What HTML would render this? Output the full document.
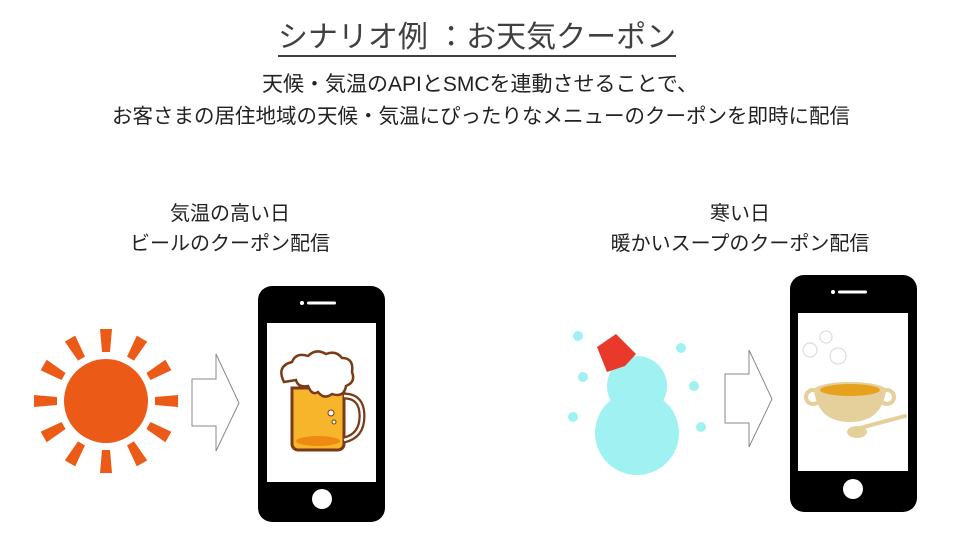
<!DOCTYPE html>
<html><head><meta charset="utf-8"><style>
body{margin:0;width:960px;height:538px;background:#fff;position:relative;overflow:hidden;font-family:"Liberation Sans","Noto Sans CJK JP",sans-serif;color:#222}
.t{position:absolute;white-space:nowrap;text-align:center}
</style></head><body>
<div class="t" style="left:0;width:954px;top:18px;font-size:30px;line-height:40px;color:#404040"><span style="border-bottom:2px solid #404040;padding-bottom:1px">シナリオ例 ：お天気クーポン</span></div>
<div class="t" style="left:0;width:960px;top:70px;font-size:21px;line-height:30px">天候・気温のAPIとSMCを連動させることで、</div>
<div class="t" style="left:0;width:962px;top:102px;font-size:20.5px;line-height:30px">お客さまの居住地域の天候・気温にぴったりなメニューのクーポンを即時に配信</div>
<div class="t" style="left:80px;width:300px;top:199px;font-size:20px;line-height:30px">気温の高い日<br>ビールのクーポン配信</div>
<div class="t" style="left:590px;width:300px;top:199px;font-size:20px;line-height:30px">寒い日<br>暖かいスープのクーポン配信</div>
<svg width="960" height="538" style="position:absolute;left:0;top:0">
<g fill="#eb5a17">
<circle cx="106" cy="401" r="42"/>
<g id="r"><polygon points="100,329 112,329 110,352 102,352"/></g>
<use href="#r" transform="rotate(30 106 401)"/><use href="#r" transform="rotate(60 106 401)"/><use href="#r" transform="rotate(90 106 401)"/><use href="#r" transform="rotate(120 106 401)"/><use href="#r" transform="rotate(150 106 401)"/><use href="#r" transform="rotate(180 106 401)"/><use href="#r" transform="rotate(210 106 401)"/><use href="#r" transform="rotate(240 106 401)"/><use href="#r" transform="rotate(270 106 401)"/><use href="#r" transform="rotate(300 106 401)"/><use href="#r" transform="rotate(330 106 401)"/>
</g>
<polygon points="192,379 216,379 216,354 239,403 216,451 216,426 192,426" fill="#fff" stroke="#888" stroke-width="1"/>
<polygon points="725,374 749,374 749,350 772,399 749,447 749,423 725,423" fill="#fff" stroke="#888" stroke-width="1"/>
<rect x="258" y="286" width="127" height="236" rx="14" fill="#000"/>
<rect x="267" y="323" width="109" height="159" fill="#fff"/>
<circle cx="322" cy="499" r="10" fill="#fff"/>
<circle cx="302" cy="303" r="2" fill="#fff"/>
<rect x="307" y="301.5" width="29" height="3" rx="1.5" fill="#fff"/>
<path d="M292,388 h52 v56 a6,6 0 0 1 -6,6 h-40 a6,6 0 0 1 -6,-6z" fill="#f7b52c" stroke="#7a3b16" stroke-width="3"/>
<ellipse cx="318" cy="441" rx="22" ry="5" fill="#ee8a12"/>
<path d="M344,396 q18,0 18,20 q0,20 -18,24" fill="none" stroke="#7a3b16" stroke-width="7"/>
<path d="M344,396 q18,0 18,20 q0,20 -18,24" fill="none" stroke="#fff" stroke-width="2.5"/>
<path d="M284,382 q-8,-16 8,-20 q4,-10 16,-6 q8,-8 18,-2 q10,-4 16,4 q12,0 10,14 q4,10 -6,14 q-2,12 -14,8 q-8,6 -14,-2 q-6,4 -10,-6 q-10,2 -12,-6 q-12,2 -12,2z" fill="#fff" stroke="#7a3b16" stroke-width="2.5"/>
<circle cx="331" cy="413" r="3" fill="#fff" stroke="#7a3b16" stroke-width="1"/>
<circle cx="334" cy="422" r="2" fill="#fff" stroke="#7a3b16" stroke-width="1"/>
<rect x="790" y="275" width="127" height="237" rx="14" fill="#000"/>
<rect x="798" y="313" width="110" height="158" fill="#fff"/>
<circle cx="853" cy="489" r="10" fill="#fff"/>
<circle cx="833" cy="292" r="2" fill="#fff"/>
<rect x="838" y="290.5" width="29" height="3" rx="1.5" fill="#fff"/>
<g fill="none" stroke="#ddd" stroke-width="1.2"><circle cx="810" cy="350" r="7"/><circle cx="826" cy="337" r="6"/><circle cx="838" cy="356" r="8"/></g>
<circle cx="813" cy="397" r="7" fill="none" stroke="#e5cf9a" stroke-width="4"/>
<circle cx="887" cy="397" r="7" fill="none" stroke="#e5cf9a" stroke-width="4"/>
<path d="M814,390 h72 q-4,32 -36,32 q-32,0 -36,-32z" fill="#e5cf9a"/>
<ellipse cx="850" cy="390" rx="36" ry="8" fill="#e5cf9a"/>
<ellipse cx="850" cy="390" rx="30" ry="6" fill="#e6a21f"/>
<path d="M860,428 l45,-12" stroke="#e5cf9a" stroke-width="4" stroke-linecap="round"/>
<ellipse cx="857" cy="432" rx="10" ry="6" fill="#e5cf9a"/>
<g fill="#a0f2f2">
<circle cx="637" cy="386" r="30"/><circle cx="637" cy="433" r="42"/>
<circle cx="578" cy="336" r="5"/><circle cx="583" cy="377" r="5"/><circle cx="573" cy="417" r="5"/><circle cx="681" cy="348" r="5"/><circle cx="694" cy="386" r="5"/><circle cx="701" cy="427" r="5"/>
</g>
<polygon points="597,347 616,334 636,354 625,366 607,372" fill="#e8392a"/>
</svg>
</body></html>
